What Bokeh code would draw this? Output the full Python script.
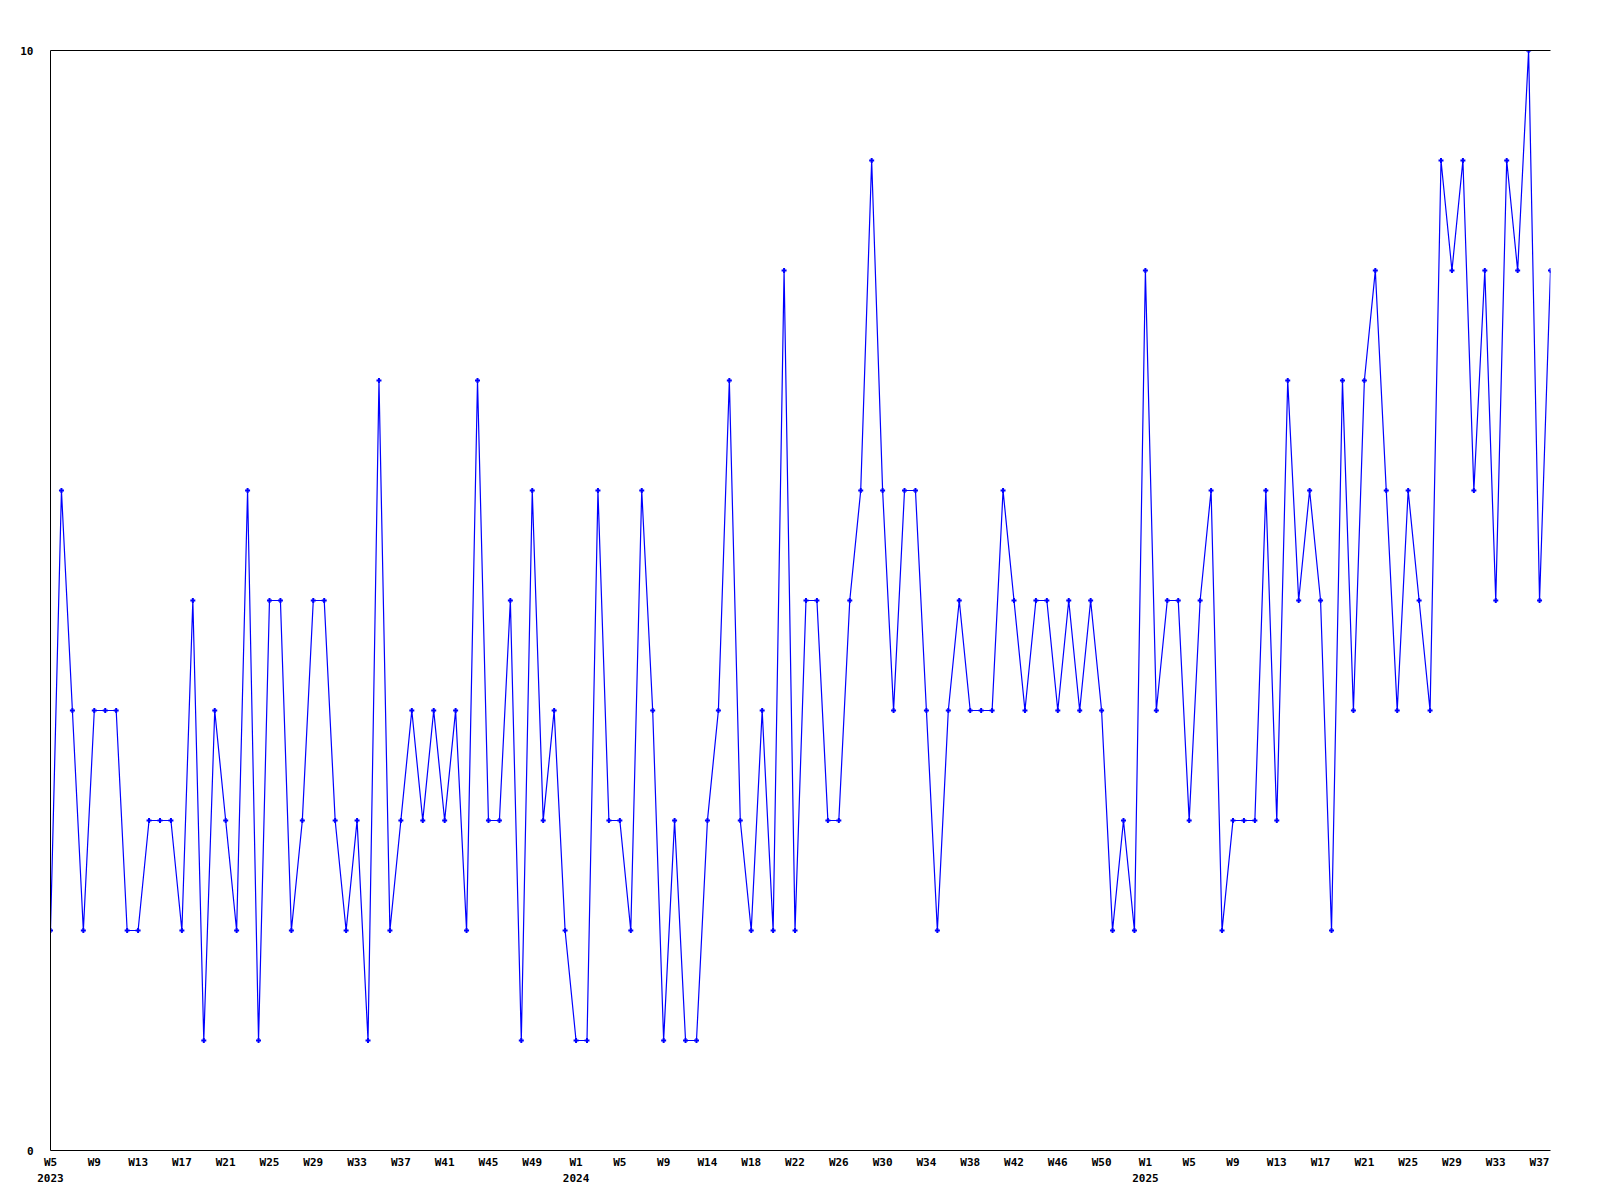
from bokeh.plotting import figure
from bokeh.models import Range1d, FixedTicker, LinearAxis, ColumnDataSource
from bokeh.embed import file_html
from bokeh.resources import INLINE

# Weekly counts, 2023-W05 .. 2025-W38
values = [
    2, 6, 4, 2, 4, 4, 4, 2, 2, 3,
    3, 3, 2, 5, 1, 4, 3, 2, 6, 1,
    5, 5, 2, 3, 5, 5, 3, 2, 3, 1,
    7, 2, 3, 4, 3, 4, 3, 4, 2, 7,
    3, 3, 5, 1, 6, 3, 4, 2, 1, 1,
    6, 3, 3, 2, 6, 4, 1, 3, 1, 1,
    3, 4, 7, 3, 2, 4, 2, 8, 2, 5,
    5, 3, 3, 5, 6, 9, 6, 4, 6, 6,
    4, 2, 4, 5, 4, 4, 4, 6, 5, 4,
    5, 5, 4, 5, 4, 5, 4, 2, 3, 2,
    8, 4, 5, 5, 3, 5, 6, 2, 3, 3,
    3, 6, 3, 7, 5, 6, 5, 2, 7, 4,
    7, 8, 6, 4, 6, 5, 4, 9, 8, 9,
    6, 8, 5, 9, 8, 10, 5, 8,
]

x_tick_labels = [
    "W5\n2023", "W9", "W13", "W17", "W21", "W25", "W29", "W33", "W37", "W41", "W45", "W49",
    "W1\n2024", "W5", "W9", "W14", "W18", "W22", "W26", "W30", "W34", "W38", "W42", "W46", "W50",
    "W1\n2025", "W5", "W9", "W13", "W17", "W21", "W25", "W29", "W33", "W37",
]
y_ticks = [0, 10]
y_tick_labels = ["0", "10"]

x = list(range(len(values)))
x_ticks = list(range(0, len(values), 4))[:len(x_tick_labels)]

src = ColumnDataSource(data=dict(x=x, y=values))

FONT = "DejaVu Sans Mono"

p = figure(
    frame_width=1500, frame_height=1100,
    x_range=Range1d(0, len(values) - 1), y_range=Range1d(y_ticks[0], y_ticks[-1]),
    output_backend="svg", toolbar_location=None,
    min_border_left=50, min_border_top=50, min_border_right=8, min_border_bottom=40,
    background_fill_color="white", border_fill_color="white",
)
p.outline_line_color = None
p.xgrid.visible = False
p.ygrid.visible = False

p.line("x", "y", source=src, line_color="#0000ff", line_width=1.2)
p.scatter("x", "y", source=src, marker="cross", size=5, line_color="#0000ff", line_width=2)

# x axis
xa = p.xaxis[0]
xa.ticker = FixedTicker(ticks=x_ticks)
xa.major_label_overrides = {t: l for t, l in zip(x_ticks, x_tick_labels)}
xa.major_tick_in = 0
xa.major_tick_out = 0
xa.minor_tick_line_color = None
xa.axis_line_color = "black"
xa.axis_line_width = 1
xa.major_label_standoff = 5
xa.major_label_text_font = FONT
xa.major_label_text_font_style = "bold"
xa.major_label_text_font_size = "11px"
xa.major_label_text_color = "black"
xa.major_label_text_line_height = 1.3

# y axis
ya = p.yaxis[0]
ya.ticker = FixedTicker(ticks=y_ticks)
ya.major_label_overrides = {t: l for t, l in zip(y_ticks, y_tick_labels)}
ya.major_tick_in = 0
ya.major_tick_out = 0
ya.minor_tick_line_color = None
ya.axis_line_color = "black"
ya.axis_line_width = 1
ya.major_label_standoff = 17
ya.major_label_text_font = FONT
ya.major_label_text_font_style = "bold"
ya.major_label_text_font_size = "11px"
ya.major_label_text_color = "black"

# top border line
top = LinearAxis(ticker=FixedTicker(ticks=[]), major_tick_line_color=None,
                 minor_tick_line_color=None, major_label_text_font_size="0px",
                 axis_line_color="black", axis_line_width=1)
p.add_layout(top, "above")

open("out.html", "w").write(file_html(p, INLINE))
